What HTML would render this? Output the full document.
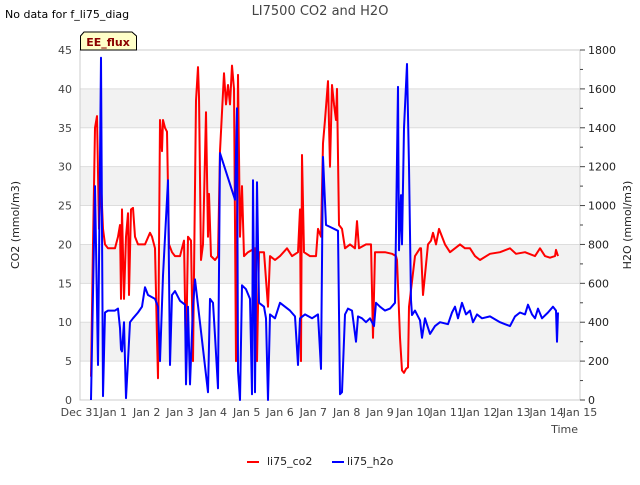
<!DOCTYPE html>
<html><head><meta charset="utf-8">
<style>
body{margin:0;background:#fff;font-family:"Liberation Sans","DejaVu Sans",sans-serif;}
svg text{font-family:"DejaVu Sans","Liberation Sans",sans-serif;}
</style></head>
<body>
<svg id="chart" width="640" height="480" xmlns="http://www.w3.org/2000/svg">
<rect x="0" y="0" width="640" height="480" fill="#fff"/>
<g id="bands"></g>
<g id="grid"></g>
<rect x="80" y="50" width="500" height="350" fill="none" stroke="#ccc" stroke-width="1"/>
<g id="series"></g>
<g id="axes"></g>
<text x="5" y="18" font-size="11" fill="#000">No data for f_li75_diag</text>
<text x="320" y="15" font-size="13" fill="#444" text-anchor="middle">LI7500 CO2 and H2O</text>
<g>
<path d="M80.5,50 L80.5,36 L84,32 L132,32 L136.5,36 L136.5,50 Z" fill="#ffffc8" stroke="#000" stroke-width="1"/>
<text x="108" y="46" font-size="11" font-weight="bold" fill="#8b0000" text-anchor="middle">EE_flux</text>
</g>
<text transform="translate(19,225) rotate(-90)" font-size="11" fill="#222" text-anchor="middle">CO2 (mmol/m3)</text>
<text transform="translate(631,225) rotate(-90)" font-size="11" fill="#222" text-anchor="middle">H2O (mmol/m3)</text>
<text x="578" y="433" font-size="11" fill="#444" text-anchor="end">Time</text>
<g>
<g><line x1="247" y1="462" x2="259" y2="462" stroke="red" stroke-width="2"/><text x="267" y="465" font-size="11" fill="#222">li75_co2</text></g>
<g><line x1="332" y1="462" x2="344" y2="462" stroke="blue" stroke-width="2"/><text x="347" y="465" font-size="11" fill="#222">li75_h2o</text></g>
</g>
</svg>
<script>
const xTickLabels=["Dec 31","Jan 1","Jan 2","Jan 3","Jan 4","Jan 5","Jan 6","Jan 7","Jan 8","Jan 9","Jan 10","Jan 11","Jan 12","Jan 13","Jan 14","Jan 15"];
const leftTicks=[0,5,10,15,20,25,30,35,40,45];
const rightTicks=[0,200,400,600,800,1000,1200,1400,1600,1800];
const co2Days=[0.33,0.39,0.45,0.51,0.57,0.63,0.69,0.75,0.84,1.05,1.14,1.2,1.23,1.26,1.32,1.38,1.44,1.47,1.53,1.59,1.65,1.74,1.95,2.1,2.16,2.25,2.31,2.34,2.4,2.46,2.49,2.55,2.61,2.67,2.76,2.85,3.0,3.12,3.18,3.24,3.33,3.39,3.48,3.54,3.57,3.63,3.69,3.78,3.84,3.87,3.93,4.05,4.14,4.2,4.26,4.32,4.38,4.44,4.5,4.56,4.62,4.68,4.74,4.8,4.86,4.92,5.04,5.25,5.31,5.37,5.52,5.64,5.7,5.85,6.0,6.21,6.36,6.54,6.6,6.63,6.66,6.72,6.9,7.08,7.14,7.23,7.29,7.35,7.44,7.5,7.56,7.62,7.68,7.71,7.77,7.86,7.95,8.1,8.25,8.31,8.37,8.58,8.73,8.79,8.85,9.15,9.36,9.48,9.51,9.6,9.66,9.72,9.78,9.84,9.87,10.05,10.2,10.23,10.29,10.44,10.53,10.59,10.68,10.77,10.95,11.1,11.25,11.4,11.55,11.7,11.85,12.0,12.3,12.6,12.9,13.08,13.35,13.65,13.8,13.95,14.1,14.25,14.28,14.34];
const co2Vals=[3,20,35,36.5,22,28,22,20,19.5,19.5,21,22.5,13,24.5,13,21,24,13.5,24.5,24.7,21,20,20,21.5,21,19.5,8,2.8,36,32,36,35,34.5,20,19,18.5,18.5,20.5,5,21,20.5,5,38.5,42.8,39,18,20,37,21,26.5,18.5,18,18.5,32,37,42,38,40.5,38,43,40,5,41.8,21,27.5,18.5,19,19.5,5,19,19,12,18.5,18,18.5,19.5,18.5,19,24.5,5,31.5,19,18.5,18.5,22,21,33,36,41,30,40.5,38,36,40,22.5,22,19.5,20,19.5,23,19.5,20,20,8,19,19,18.8,18.5,18,8,3.8,3.5,4,4.2,12,18.5,19.5,19.5,13.5,20,20.5,21.5,20,22,20,19,19.5,20,19.5,19.5,18.5,18,18.8,19,19.5,18.8,19,18.5,19.5,18.5,18.3,18.5,19.3,18.5,18.8];
const h2oDays=[0.33,0.45,0.54,0.63,0.69,0.75,0.84,1.05,1.14,1.2,1.23,1.26,1.32,1.38,1.44,1.5,1.59,1.74,1.86,1.95,2.04,2.25,2.34,2.4,2.49,2.64,2.7,2.76,2.85,3.0,3.15,3.18,3.24,3.3,3.39,3.45,3.84,3.9,3.99,4.05,4.14,4.2,4.65,4.71,4.74,4.8,4.86,4.98,5.1,5.16,5.19,5.25,5.31,5.37,5.52,5.58,5.64,5.7,5.85,6.0,6.15,6.3,6.45,6.54,6.6,6.75,6.96,7.14,7.23,7.29,7.38,7.5,7.74,7.8,7.86,7.95,8.04,8.16,8.28,8.34,8.46,8.58,8.7,8.82,8.88,9.0,9.15,9.3,9.45,9.54,9.57,9.63,9.66,9.72,9.81,9.87,9.93,9.96,10.05,10.2,10.26,10.35,10.5,10.65,10.8,11.04,11.16,11.25,11.34,11.46,11.58,11.7,11.79,11.91,12.06,12.3,12.6,12.75,12.9,13.05,13.2,13.35,13.44,13.56,13.65,13.74,13.86,14.04,14.19,14.28,14.31,14.34];
const h2oVals=[0,1100,180,1760,20,450,460,460,470,370,260,250,400,10,200,400,420,450,480,580,540,520,480,200,640,1130,180,540,560,510,490,80,480,80,480,620,40,520,500,330,60,1270,1030,1500,150,0,590,570,520,30,1130,40,1120,500,480,420,0,440,420,500,480,460,430,180,420,440,420,440,160,1250,900,890,870,30,40,440,470,460,300,430,420,400,420,380,500,480,460,470,500,1610,770,1054,800,1400,1728,1200,514,437,460,410,320,420,340,380,400,390,450,480,420,500,440,460,400,440,420,430,400,390,380,430,450,440,490,440,420,470,420,450,480,460,300,450];
const X=d=>80+d*(500/15);
const YL=v=>400-v*(350/45);
const YR=v=>400-v*(350/1800);
const NS="http://www.w3.org/2000/svg";
function mk(tag,attrs,parent){const e=document.createElementNS(NS,tag);for(const k in attrs)e.setAttribute(k,attrs[k]);parent.appendChild(e);return e;}
const bands=document.getElementById('bands'),grid=document.getElementById('grid'),axes=document.getElementById('axes'),series=document.getElementById('series');
for(let i=0;i<leftTicks.length-1;i++){if(i%2===1){const r=mk('rect',{x:80,y:YL(leftTicks[i+1]),width:500,height:YL(leftTicks[i])-YL(leftTicks[i+1]),fill:'#f2f2f2'},bands);

}}
leftTicks.forEach(v=>{const l=mk('line',{x1:80,x2:580,y1:YL(v),y2:YL(v),stroke:'#ddd','stroke-width':1},grid);


const t=mk('text',{x:72,y:YL(v)+4,'font-size':11,fill:'#444','text-anchor':'end'},axes);t.textContent=v;

});
rightTicks.forEach((v,i)=>{const l=mk('line',{x1:580,x2:585,y1:YR(v),y2:YR(v),stroke:'#444','stroke-width':1},axes);


if(i<rightTicks.length-1){const m=mk('line',{x1:580,x2:583,y1:YR(v+100),y2:YR(v+100),stroke:'#444','stroke-width':1},axes);

}
const t=mk('text',{x:588,y:YR(v)+4,'font-size':11,fill:'#222'},axes);t.textContent=v;

});
xTickLabels.forEach((s,i)=>{const t=mk('text',{x:X(i),y:416,'font-size':11,fill:'#444','text-anchor':'middle'},axes);t.textContent=s;

});
function line(days,vals,Y,color,name){const p=mk('polyline',{points:days.map((d,i)=>X(d).toFixed(1)+','+Y(vals[i]).toFixed(1)).join(' '),fill:'none',stroke:color,'stroke-width':2,'stroke-linejoin':'round'},series);

}
line(co2Days,co2Vals,YL,'red','co2-line');
line(h2oDays,h2oVals,YR,'blue','h2o-line');
</script>
</body></html>
